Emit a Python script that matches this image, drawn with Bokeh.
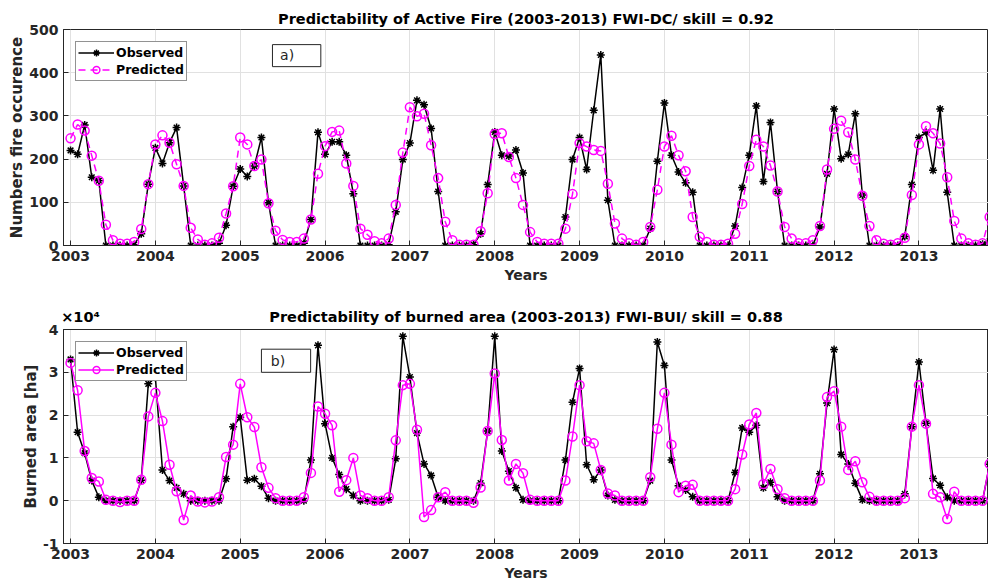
from bokeh.plotting import figure
from bokeh.layouts import column
from bokeh.models import (Range1d, FixedTicker, Legend, LegendItem, Label,
                          LinearAxis, CustomJSTickFormatter, BoxAnnotation)
from bokeh.embed import file_html
from bokeh.resources import INLINE

# ---------------- data (monthly, Jan 2003 ... Nov 2013) ----------------
years = list(range(2003, 2014))

fire_observed = [
    220, 211, 279, 158, 150, 0, 0, 0, 0, 2, 27, 142,      # 2003
    226, 190, 238, 273, 138, 0, 0, 0, 0, 5, 47, 137,      # 2004
    177, 160, 184, 250, 99, 0, 0, 0, 0, 5, 60, 262,       # 2005
    211, 240, 240, 209, 120, 0, 0, 0, 0, 2, 78, 199,      # 2006
    237, 336, 326, 271, 125, 0, 0, 0, 0, 2, 27, 141,      # 2007
    263, 209, 207, 221, 168, 0, 0, 0, 0, 0, 66, 199,      # 2008
    250, 176, 313, 441, 105, 0, 0, 0, 0, 0, 39, 195,      # 2009
    330, 209, 170, 145, 123, 0, 0, 0, 0, 0, 45, 134,      # 2010
    209, 323, 148, 285, 125, 0, 0, 0, 0, 0, 43, 166,      # 2011
    316, 201, 211, 305, 117, 0, 0, 0, 0, 0, 21, 141,      # 2012
    250, 262, 174, 316, 123, 0, 0, 0, 0, 3, 10,           # 2013
]
fire_predicted = [
    248, 280, 266, 208, 150, 48, 12, 4, 4, 8, 38, 142,
    234, 255, 238, 188, 138, 41, 14, 2, 5, 18, 74, 137,
    250, 234, 184, 199, 98, 34, 13, 8, 8, 16, 60, 166,
    230, 263, 266, 190, 138, 39, 25, 10, 5, 16, 94, 215,
    320, 299, 305, 232, 156, 55, 12, 2, 2, 2, 33, 121,
    258, 260, 205, 156, 94, 31, 8, 4, 4, 4, 39, 119,
    237, 229, 221, 219, 143, 51, 16, 5, 2, 8, 43, 129,
    229, 254, 209, 172, 66, 20, 8, 2, 2, 4, 27, 96,
    184, 245, 229, 185, 125, 43, 16, 5, 5, 12, 45, 176,
    270, 289, 262, 199, 115, 45, 12, 4, 2, 5, 18, 117,
    234, 276, 260, 236, 158, 57, 16, 5, 2, 5, 66,
]
area_observed = [
    33000, 16000, 11100, 4700, 800, 0, 0, 0, 0, 0, 4800, 27300,
    28800, 7200, 4700, 3000, 1600, 0, 0, 0, 0, 0, 5100, 17300,
    19500, 4800, 5100, 3400, 600, 0, 0, 0, 0, 0, 9500, 36300,
    18000, 10000, 6100, 2700, 1200, 0, 0, 0, 0, 200, 9800, 38400,
    28900, 15800, 8600, 5900, 800, 0, 0, 0, 0, 0, 4100, 16300,
    38400, 11600, 6900, 3000, 200, 0, 0, 0, 0, 0, 9500, 23000,
    30900, 8400, 4900, 7200, 1200, 200, 0, 0, 0, 0, 4700, 37100,
    31600, 9500, 3500, 2500, 900, 0, 0, 0, 0, 0, 6600, 17000,
    16000, 17600, 3000, 4300, 900, 0, 0, 0, 0, 0, 6300, 22800,
    35300, 10800, 8600, 4100, 200, 0, 0, 0, 0, 0, 1600, 17300,
    32400, 18100, 5200, 3600, 800, 0, 0, 0, 0, 0, 8500,
]
area_predicted = [
    32200, 25800, 11600, 5300, 4500, 200, 0, -300, 0, 0, 4900, 19700,
    25200, 18600, 8400, 2200, -4500, 1200, -200, -400, -200, 800, 10200, 13100,
    27300, 19500, 17200, 7800, 3000, 600, 0, 0, 0, 800, 6500, 22000,
    20300, 17600, 2100, 4800, 10000, 1200, 600, 0, 0, 800, 14100, 27000,
    27300, 16600, -3800, -2200, 800, 2000, 0, 0, 0, -500, 3100, 16300,
    29700, 14200, 4700, 8600, 6400, 200, 0, 0, 0, 0, 4700, 15000,
    27000, 13900, 13400, 7200, 1700, 1200, 0, 0, 0, 0, 5500, 16800,
    25200, 13100, 2000, 3500, 3700, 0, 0, 0, 0, 0, 2700, 10800,
    17800, 20500, 3900, 7400, 2700, 600, 0, 0, 0, 0, 4700, 24200,
    25600, 17300, 7200, 9200, 4300, 900, 0, 0, 0, 0, 600, 17300,
    27000, 18000, 1600, 800, -4300, 2100, 0, 0, 0, 0, 8600,
]
months = [2003 + i / 12 for i in range(len(fire_observed))]

title_top = "Predictability of Active Fire (2003-2013) FWI-DC/ skill = 0.92"
title_bottom = "Predictability of burned area (2003-2013) FWI-BUI/ skill = 0.88"
exponent_label = "\u00d710\u2074"

FONT = "DejaVu Sans"
DARK = "#262626"
MAG = "#ff00ff"
X0, X1 = 2002.917, 2013.82
FRAME_W = 925


def style(p, ylabel):
    p.outline_line_color = DARK
    p.outline_line_width = 1
    p.background_fill_color = "white"
    p.border_fill_color = "white"
    p.xaxis.ticker = FixedTicker(ticks=years)
    p.xaxis.axis_label = "Years"
    for ax in p.xaxis + p.yaxis:
        ax.major_tick_in = 5
        ax.major_tick_out = 0
        ax.minor_tick_in = 0
        ax.minor_tick_out = 0
        ax.axis_line_color = DARK
        ax.major_tick_line_color = DARK
        ax.major_label_text_font = FONT
        ax.major_label_text_font_style = "bold"
        ax.major_label_text_font_size = "14px"
        ax.major_label_text_color = DARK
        ax.axis_label_text_font = FONT
        ax.axis_label_text_font_style = "bold"
        ax.axis_label_text_font_size = "14px"
        ax.axis_label_text_color = DARK
    p.yaxis.axis_label_text_font_size = "15px"
    p.xaxis.major_label_standoff = 5
    p.xaxis.axis_label_standoff = 3
    p.yaxis.major_label_standoff = 5
    p.yaxis.axis_label_standoff = 0
    p.yaxis.axis_label = ylabel
    p.grid.grid_line_color = "#e1e1e1"
    p.grid.grid_line_width = 1


def legend(p, items):
    lg = Legend(items=items, location="top_left")
    lg.label_text_font = FONT
    lg.label_text_font_style = "bold"
    lg.label_text_font_size = "12.5px"
    lg.label_text_color = "black"
    lg.border_line_color = DARK
    lg.border_line_width = 1.5
    lg.padding = 2
    lg.spacing = 0
    lg.margin = 12
    lg.glyph_width = 36
    lg.glyph_height = 17
    lg.label_height = 17
    lg.label_standoff = 2
    lg.background_fill_alpha = 1
    p.add_layout(lg)


# ---------------- top panel ----------------
p1 = figure(width=988, height=290, output_backend="svg", toolbar_location=None,
            x_range=Range1d(X0, X1), y_range=Range1d(0, 500),
            title=title_top,
            min_border_left=63, min_border_right=0, min_border_top=29, min_border_bottom=45)
style(p1, "Numbers fire occurence")
p1.yaxis.ticker = FixedTicker(ticks=[0, 100, 200, 300, 400, 500])
p1.title.text_font = FONT
p1.title.text_font_style = "bold"
p1.title.text_font_size = "14.5px"
p1.title.text_color = "black"
p1.title.align = "center"
p1.title.standoff = 5

o1l = p1.line(months, fire_observed, line_color="black", line_width=1.5)
o1m = p1.scatter(months, fire_observed, marker="asterisk", size=8,
                 line_color="black", line_width=1.5)
f1l = p1.line(months, fire_predicted, line_color=MAG, line_width=1.5, line_dash="7 5")
f1m = p1.scatter(months, fire_predicted, marker="circle", size=9, fill_color=None,
                 line_color=MAG, line_width=1.5)
legend(p1, [LegendItem(label="Observed", renderers=[o1l, o1m]),
            LegendItem(label="Predicted", renderers=[f1l, f1m])])
p1.add_layout(BoxAnnotation(left=2005.38, right=2005.95, bottom=414, top=465,
                            fill_color="white", fill_alpha=1, line_color=DARK,
                            line_width=1, line_alpha=1))
p1.add_layout(Label(x=2005.47, y=440, text="a)", text_font=FONT, text_font_size="14px",
                    text_baseline="middle", text_color=DARK))

# ---------------- bottom panel ----------------
p2 = figure(width=988, height=293, output_backend="svg", toolbar_location=None,
            x_range=Range1d(X0, X1), y_range=Range1d(-10000, 40000),
            min_border_left=63, min_border_right=0, min_border_top=39, min_border_bottom=39)
style(p2, "Burned area [ha]")
p2.yaxis.ticker = FixedTicker(ticks=[-10000, 0, 10000, 20000, 30000, 40000])
p2.yaxis.formatter = CustomJSTickFormatter(code="return (tick / 10000).toFixed(0);")

# header row above the lower frame: exponent marker (left) and title (centred)
x_exp = X0 + 17 * (X1 - X0) / FRAME_W
x_mid = X0 + 0.5 * (X1 - X0)
head = LinearAxis(ticker=FixedTicker(ticks=[x_exp, x_mid]),
                  formatter=CustomJSTickFormatter(args=dict(labels=[exponent_label, title_bottom]),
                                                  code="return labels[index];"),
                  major_tick_in=0, major_tick_out=0, minor_tick_in=0, minor_tick_out=0,
                  major_tick_line_color=None, axis_line_color=DARK,
                  major_label_text_font=FONT, major_label_text_font_style="bold",
                  major_label_text_font_size="14.5px", major_label_text_color="black",
                  major_label_standoff=5)
p2.add_layout(head, "above")

o2l = p2.line(months, area_observed, line_color="black", line_width=1.5)
o2m = p2.scatter(months, area_observed, marker="asterisk", size=8,
                 line_color="black", line_width=1.5)
f2l = p2.line(months, area_predicted, line_color=MAG, line_width=1.5)
f2m = p2.scatter(months, area_predicted, marker="circle", size=9, fill_color=None,
                 line_color=MAG, line_width=1.5)
legend(p2, [LegendItem(label="Observed", renderers=[o2l, o2m]),
            LegendItem(label="Predicted", renderers=[f2l, f2m])])
p2.add_layout(BoxAnnotation(left=2005.25, right=2005.83, bottom=30000, top=35400,
                            fill_color="white", fill_alpha=1, line_color=DARK,
                            line_width=1, line_alpha=1))
p2.add_layout(Label(x=2005.36, y=32700, text="b)", text_font=FONT, text_font_size="14px",
                    text_baseline="middle", text_color=DARK))

layout = column(p1, p2, spacing=0)
open("out.html", "w").write(file_html(layout, INLINE))
